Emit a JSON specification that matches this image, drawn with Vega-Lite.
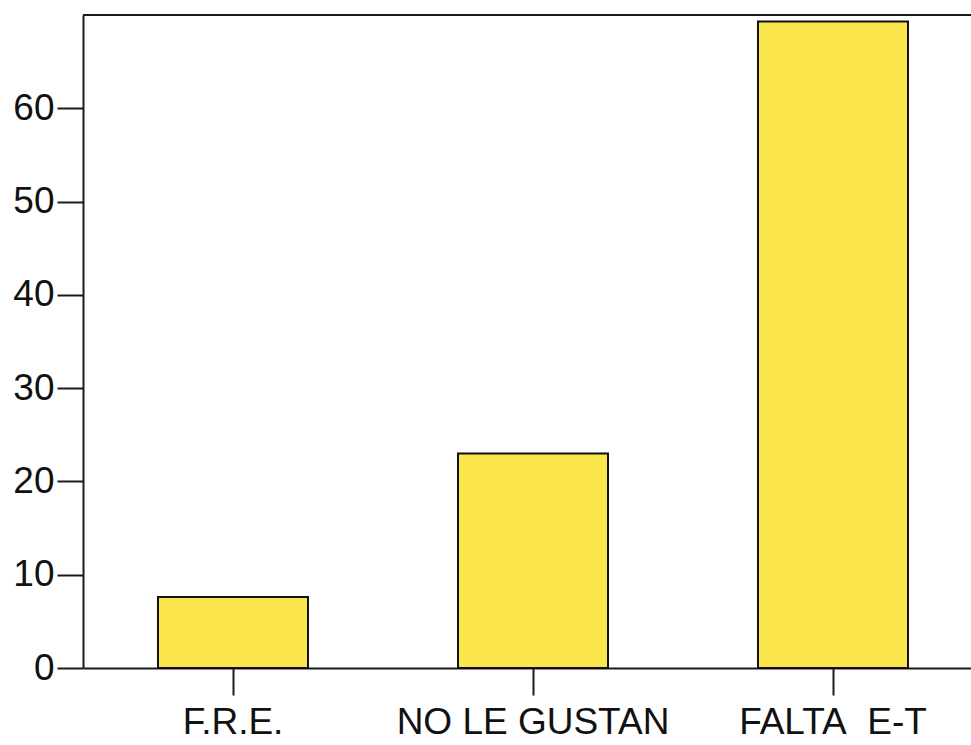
{
  "$schema": "https://vega.github.io/schema/vega-lite/v6.json",
  "autosize": {"type": "none"},
  "padding": {"left": 83, "top": 15, "right": 0, "bottom": 77},
  "width": 888,
  "height": 653,
  "background": "white",
  "config": {
    "view": {"stroke": null},
    "font": "Liberation Sans"
  },
  "data": {
    "values": [
      {"categoria": "F.R.E.", "valor": 7.6},
      {"categoria": "NO LE GUSTAN", "valor": 23.0},
      {"categoria": "FALTA\u00a0 E-T", "valor": 69.3}
    ]
  },
  "layer": [
    {
      "mark": {"type": "bar", "color": "#FBE54D", "stroke": "#111", "strokeWidth": 2},
      "encoding": {
        "x": {
          "field": "categoria",
          "type": "nominal",
          "sort": null,
          "scale": {"range": [0, 900], "paddingInner": 0.5, "paddingOuter": 0.25},
          "axis": {
            "title": null,
            "labelAngle": 0,
            "labelFontSize": 37,
            "labelLimit": 0,
            "labelColor": "#111",
            "labelPadding": 9,
            "tickSize": 27,
            "tickWidth": 2,
            "tickColor": "#1a1a1a",
            "domainColor": "#1a1a1a",
            "domainWidth": 2,
            "grid": false
          }
        },
        "y": {
          "field": "valor",
          "type": "quantitative",
          "scale": {"domain": [0, 70], "nice": false},
          "axis": {
            "title": null,
            "values": [0, 10, 20, 30, 40, 50, 60],
            "labelFontSize": 37,
            "labelColor": "#111",
            "labelPadding": 3,
            "tickSize": 26,
            "tickWidth": 2,
            "tickColor": "#1a1a1a",
            "domainColor": "#1a1a1a",
            "domainWidth": 2,
            "grid": false
          }
        }
      }
    },
    {
      "mark": {"type": "rule", "color": "#1a1a1a", "strokeWidth": 2},
      "encoding": {
        "y": {"datum": 70}
      }
    }
  ]
}
